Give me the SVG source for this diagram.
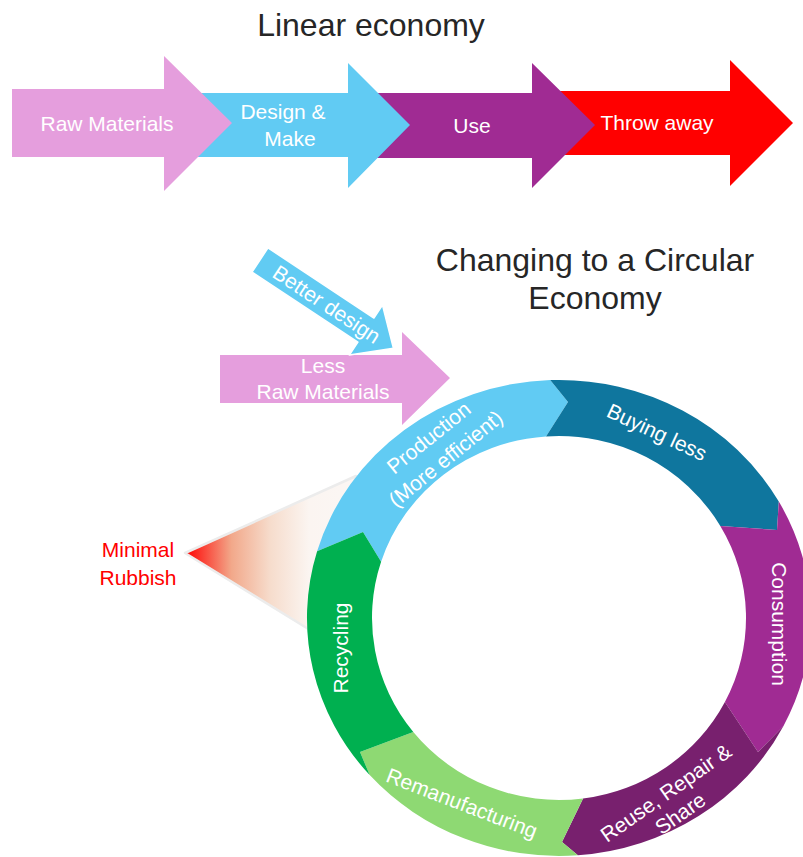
<svg xmlns="http://www.w3.org/2000/svg" width="803" height="857" viewBox="0 0 803 857">
<defs>
<style>
.t{font-family:"Liberation Sans",Arial,sans-serif;font-size:21px;fill:#fff;text-anchor:middle}
.title{font-family:"Liberation Sans",Arial,sans-serif;font-size:32px;fill:#262626;text-anchor:middle}
.red{font-family:"Liberation Sans",Arial,sans-serif;font-size:21px;fill:#ff0000;text-anchor:middle}
</style>
<linearGradient id="rub" gradientUnits="userSpaceOnUse" x1="185" y1="0" x2="340" y2="0">
<stop offset="0" stop-color="#ff0000"/>
<stop offset="0.3" stop-color="#f2a88a"/>
<stop offset="0.55" stop-color="#f6dccc"/>
<stop offset="0.8" stop-color="#fbf5f1"/>
<stop offset="1" stop-color="#fbf6f3"/>
</linearGradient>
</defs>
<rect width="803" height="857" fill="#fff"/>

<text class="title" x="371" y="36">Linear economy</text>
<text class="title" x="595" y="271">Changing to a Circular</text>
<text class="title" x="595" y="309">Economy</text>

<g id="throw-away">
<polygon points="560,91 730,91 730,60 793,123 730,186 730,155 560,155" fill="#ff0000"/>
<text class="t" x="657" y="130">Throw away</text>
</g>
<g id="use">
<polygon points="375,93 532,93 532,63 595,125 532,188 532,158 375,158" fill="#a02b93"/>
<text class="t" x="472" y="133">Use</text>
</g>
<g id="design-make">
<polygon points="195,93 348,93 348,63 410,125 348,188 348,157 195,157" fill="#61cbf3"/>
<text class="t" x="283" y="119">Design &amp;</text>
<text class="t" x="290" y="146">Make</text>
</g>
<g id="raw-materials">
<polygon points="12,89 164,89 164,56 232,123 164,191 164,157 12,157" fill="#e59edd"/>
<text class="t" x="107" y="131">Raw Materials</text>
</g>

<g id="minimal-rubbish">
<polygon points="185,553 356,476 310,630" fill="url(#rub)" stroke="#ececec" stroke-width="2.5" stroke-linejoin="round"/>
<text class="red" x="138" y="557">Minimal</text>
<text class="red" x="138" y="585">Rubbish</text>
</g>

<g id="less-raw-materials">
<polygon points="220,355 402,355 402,332 450,378 402,425 402,403 220,403" fill="#e59edd"/>
<text class="t" x="323" y="373">Less</text>
<text class="t" x="323" y="399">Raw Materials</text>
</g>
<g id="better-design" transform="translate(260,260) rotate(33.5)">
<polygon points="0,-14.5 127,-14.5 127,-30 160,0 127,30 127,14.5 0,14.5" fill="#61cbf3" stroke="#fff" stroke-width="1.5" stroke-linejoin="round"/>
<text class="t" x="80" y="7.5">Better design</text>
</g>

<g id="production">
<path d="M317.1,551.2 A252,238 0 0 1 550.2,380.1 L568,402 L546,436.4 A187,182 0 0 0 381.1,561.8 L363,532 Z" fill="#61cbf3"/>
<g transform="translate(437,448) rotate(-39)">
<text class="t" x="0" y="-6">Production</text>
<text class="t" x="0" y="21">(More efficient)</text>
</g>
</g>
<g id="buying-less">
<path d="M550.2,380.1 A252,238 0 0 1 778.8,501.5 L777,530 L720.3,525.9 A187,182 0 0 0 546,436.4 L568,402 Z" fill="#0f769e"/>
<text class="t" transform="translate(657,432) rotate(25)" x="0" y="7.5">Buying less</text>
</g>
<g id="consumption">
<path d="M778.8,501.5 A252,238 0 0 1 783.5,726 L758,752 L724.9,702 A187,182 0 0 0 720.3,525.9 L777,530 Z" fill="#a02b93"/>
<text class="t" transform="translate(779,624) rotate(90)" x="0" y="7.5">Consumption</text>
</g>
<g id="reuse-repair-share">
<path d="M783.5,726 A252,238 0 0 1 577.9,855.3 L562,842 L583.1,798.5 A187,182 0 0 0 724.9,702 L758,752 Z" fill="#78206e"/>
<g transform="translate(673,803) rotate(-35)">
<text class="t" x="0" y="-5">Reuse, Repair &amp;</text>
<text class="t" x="0" y="20">Share</text>
</g>
</g>
<g id="remanufacturing">
<path d="M577.9,855.3 A252,238 0 0 1 369.7,775.1 L360,752 L413.3,732 A187,182 0 0 0 583.1,798.5 L562,842 Z" fill="#8ed973"/>
<text class="t" transform="translate(462,803) rotate(21)" x="0" y="7.5">Remanufacturing</text>
</g>
<g id="recycling">
<path d="M369.7,775.1 A252,238 0 0 1 317.1,551.2 L363,532 L381.1,561.8 A187,182 0 0 0 413.3,732 L360,752 Z" fill="#00b050"/>
<text class="t" transform="translate(340,648) rotate(-90)" x="0" y="7.5">Recycling</text>
</g>

<g id="connectors"></g>
</svg>
